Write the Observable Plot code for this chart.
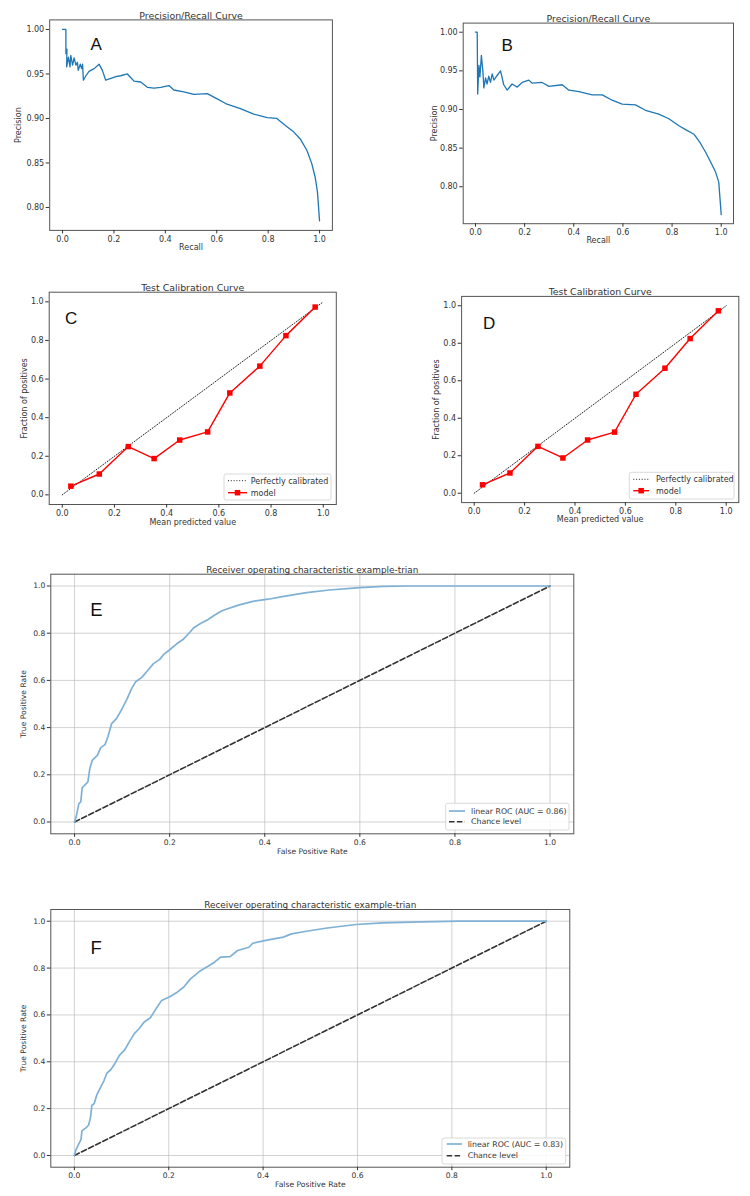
<!DOCTYPE html>
<html><head><meta charset="utf-8">
<script src="https://cdn.jsdelivr.net/npm/d3@7"></script>
<script src="https://cdn.jsdelivr.net/npm/@observablehq/plot@0.6"></script>
<style>
html,body{margin:0;padding:0;background:#fff;}
#page{position:relative;width:750px;height:1196px;overflow:hidden;background:#fff;}
#page > div{position:absolute;}
#page svg{overflow:visible;background:transparent !important;max-width:none !important;}
</style></head><body><div id="page"></div>
<script>
// ---------- data ----------
const prRecallA = [0,0.013,0.013,0.017,0.016,0.023,0.029,0.032,0.039,0.045,0.052,0.058,0.061,0.069,0.074,0.078,0.081,0.091,0.103,0.123,0.142,0.155,0.168,0.188,0.207,0.226,0.252,0.265,0.278,0.304,0.33,0.356,0.382,0.414,0.433,0.472,0.511,0.563,0.602,0.64,0.692,0.744,0.796,0.834,0.867,0.899,0.925,0.951,0.97,0.983,0.992,1.0];
const prPrecA = [1.0,1.0,0.973,0.978,0.958,0.969,0.958,0.971,0.96,0.968,0.96,0.963,0.954,0.961,0.956,0.961,0.943,0.948,0.953,0.956,0.961,0.954,0.943,0.945,0.947,0.948,0.95,0.946,0.942,0.941,0.935,0.934,0.935,0.937,0.932,0.93,0.927,0.928,0.922,0.916,0.911,0.905,0.901,0.9,0.892,0.885,0.877,0.864,0.849,0.834,0.817,0.785];
const prRecallB = [0,0.007,0.009,0.014,0.018,0.024,0.03,0.034,0.041,0.047,0.054,0.061,0.068,0.075,0.088,0.102,0.115,0.129,0.149,0.17,0.19,0.217,0.231,0.271,0.299,0.353,0.38,0.421,0.475,0.516,0.556,0.597,0.651,0.692,0.746,0.787,0.828,0.855,0.889,0.916,0.936,0.957,0.977,0.99,1.0];
const prPrecB = [1,1.0,0.92,0.957,0.942,0.97,0.95,0.928,0.941,0.933,0.943,0.935,0.946,0.938,0.944,0.95,0.932,0.925,0.933,0.929,0.935,0.938,0.934,0.935,0.93,0.932,0.925,0.923,0.919,0.919,0.912,0.907,0.906,0.899,0.894,0.888,0.879,0.874,0.868,0.856,0.845,0.832,0.819,0.806,0.764];
const calMeanPred = [0.033,0.142,0.253,0.352,0.45,0.557,0.642,0.757,0.857,0.969];
const calFracPos = [0.045,0.108,0.25,0.188,0.284,0.326,0.528,0.667,0.825,0.973];
const diagX = [0,1];
const diagY = [0,1];
const rocFprE = [0,0.004,0.009,0.013,0.016,0.028,0.032,0.037,0.048,0.055,0.064,0.07,0.078,0.088,0.1,0.11,0.12,0.128,0.142,0.152,0.166,0.179,0.187,0.2,0.215,0.228,0.243,0.25,0.264,0.28,0.294,0.31,0.343,0.375,0.407,0.44,0.488,0.536,0.6,0.65,0.7,1];
const rocTprE = [0,0.028,0.078,0.085,0.145,0.17,0.226,0.261,0.282,0.315,0.328,0.36,0.417,0.438,0.48,0.52,0.565,0.593,0.614,0.638,0.671,0.689,0.709,0.73,0.755,0.773,0.805,0.822,0.84,0.857,0.876,0.895,0.918,0.935,0.944,0.956,0.972,0.983,0.993,0.998,1.0,1];
const rocFprF = [0,0.003,0.008,0.014,0.016,0.025,0.03,0.034,0.037,0.042,0.048,0.056,0.063,0.069,0.077,0.085,0.095,0.107,0.116,0.127,0.137,0.148,0.161,0.173,0.185,0.203,0.218,0.232,0.246,0.268,0.285,0.297,0.31,0.33,0.346,0.37,0.378,0.411,0.443,0.46,0.492,0.532,0.597,0.654,0.735,0.816,1];
const rocTprF = [0,0.023,0.044,0.068,0.105,0.119,0.129,0.16,0.214,0.222,0.261,0.293,0.321,0.352,0.366,0.389,0.426,0.452,0.484,0.52,0.541,0.57,0.588,0.626,0.662,0.679,0.697,0.719,0.754,0.79,0.81,0.825,0.847,0.849,0.875,0.889,0.906,0.92,0.932,0.946,0.957,0.97,0.986,0.993,0.997,1.0,1];
const unitTicks = [0,0.2,0.4,0.6,0.8,1.0];
const prTicks = [0.80,0.85,0.90,0.95,1.00];
const aucE = 0.86, aucF = 0.83;

const zip = (xs, ys) => xs.map((x, i) => ({x, y: ys[i]}));
const FONT = "DejaVu Sans";
const page = document.getElementById("page");

function panel(c) {
  const [fx0, fx1, fy0, fy1] = c.frame;
  const ml = fx0 - c.left, mr = c.left + c.width - fx1, mt = fy0 - c.top, mb = c.top + c.height - fy1;
  const marks = [];
  if (c.grid) {
    marks.push(Plot.gridX({ticks: c.xTicks, stroke: "#b8b8b8", strokeOpacity: 0.8, strokeWidth: 0.8}));
    marks.push(Plot.gridY({ticks: c.yTicks, stroke: "#b8b8b8", strokeOpacity: 0.8, strokeWidth: 0.8}));
  }
  marks.push(...c.marks);
  marks.push(Plot.frame({stroke: "#555", strokeWidth: 1}));
  marks.push(Plot.axisX({ticks: c.xTicks, tickFormat: d3.format(".1f"), tickSize: 3.5, tickPadding: 2, fontSize: c.fs, label: null, color: "#333"}));
  marks.push(Plot.axisY({ticks: c.yTicks, tickFormat: d3.format(c.yFormat), tickSize: 3.5, tickPadding: 2, fontSize: c.fs, label: null, color: "#333"}));
  marks.push(Plot.text([c.title], {frameAnchor: "top", dy: c.titleDy, text: d => d, fontSize: c.titleSize, fill: "#333"}));
  marks.push(Plot.text([c.xLabel], {frameAnchor: "bottom", dy: c.xLabelDy, text: d => d, fontSize: c.fs, fill: "#333"}));
  marks.push(Plot.text([c.yLabel], {frameAnchor: "left", dx: c.yLabelDx, rotate: -90, text: d => d, fontSize: c.fs, fill: "#333", textAnchor: "middle"}));
  marks.push(Plot.text([c.letter], {frameAnchor: "top-left", dx: c.letterDx, dy: c.letterDy, text: d => d, fontSize: c.letterSize, fontFamily: "Liberation Sans", textAnchor: "middle", lineAnchor: "middle", fill: "#111"}));
  const svg = Plot.plot({
    width: c.width, height: c.height,
    marginLeft: ml, marginRight: mr, marginTop: mt, marginBottom: mb,
    x: {domain: c.xDomain}, y: {domain: c.yDomain},
    style: {fontFamily: FONT, fontSize: c.fs + "px", background: "transparent", overflow: "visible"},
    marks
  });
  const div = document.createElement("div");
  div.style.left = c.left + "px"; div.style.top = c.top + "px";
  div.style.width = c.width + "px"; div.style.height = c.height + "px";
  div.appendChild(svg);
  page.appendChild(div);
  if (c.legend) legend(svg, c.left, c.top, c.legend);
}

function legend(svg, ox, oy, L) {
  const g = d3.select(svg).append("g").attr("text-anchor", "start");
  const [bx0, bx1, by0, by1] = L.box;
  g.append("rect").attr("x", bx0 - ox).attr("y", by0 - oy).attr("width", bx1 - bx0).attr("height", by1 - by0)
    .attr("rx", 2).attr("fill", "#fff").attr("fill-opacity", 0.85).attr("stroke", "#d0d0d0").attr("stroke-width", 0.8);
  L.rows.forEach(r => {
    g.append("line").attr("x1", L.sx0 - ox).attr("x2", L.sx1 - ox).attr("y1", r.y - oy).attr("y2", r.y - oy)
      .attr("stroke", r.stroke).attr("stroke-width", r.sw).attr("stroke-dasharray", r.dash || null);
    if (r.marker) {
      const cx = (L.sx0 + L.sx1) / 2 - ox, s = 5.5;
      g.append("rect").attr("x", cx - s / 2).attr("y", r.y - oy - s / 2).attr("width", s).attr("height", s).attr("fill", r.stroke);
    }
    g.append("text").attr("x", L.tx - ox).attr("y", r.y - oy).attr("dy", "0.35em").attr("font-size", L.fs)
      .attr("text-anchor", "start").attr("font-family", FONT).attr("fill", "#333").text(r.text);
  });
}

// PR curves
const prBlue = "#1f77b4";
panel({left: 0, top: 0, width: 375, height: 262, frame: [49.2, 331.9, 19.4, 229.9],
  xDomain: [-0.05, 1.05], yDomain: [0.77425, 1.01075], xTicks: unitTicks, yTicks: prTicks, yFormat: ".2f", fs: 8,
  marks: [Plot.line(zip(prRecallA, prPrecA), {x: "x", y: "y", stroke: prBlue, strokeWidth: 1.3})],
  title: "Precision/Recall Curve", titleDy: -7.7, titleSize: 9.4,
  xLabel: "Recall", xLabelDy: 19.4, yLabel: "Precision", yLabelDx: -30.9,
  letter: "A", letterDx: 46.5, letterDy: 24.6, letterSize: 17});
panel({left: 375, top: 0, width: 375, height: 262, frame: [462.7, 733, 22.6, 223.2],
  xDomain: [-0.05, 1.05], yDomain: [0.7522, 1.0118], xTicks: unitTicks, yTicks: prTicks, yFormat: ".2f", fs: 8,
  marks: [Plot.line(zip(prRecallB, prPrecB), {x: "x", y: "y", stroke: prBlue, strokeWidth: 1.3})],
  title: "Precision/Recall Curve", titleDy: -7.6, titleSize: 9.4,
  xLabel: "Recall", xLabelDy: 19.1, yLabel: "Precision", yLabelDx: -28.7,
  letter: "B", letterDx: 44, letterDy: 22.4, letterSize: 17});

// calibration curves
function calMarks() {
  return [
    Plot.line(zip(diagX, diagY), {x: "x", y: "y", stroke: "#222", strokeWidth: 1, strokeDasharray: "1,1.8"}),
    Plot.line(zip(calMeanPred, calFracPos), {x: "x", y: "y", stroke: "#ff0000", strokeWidth: 1.4}),
    Plot.dot(zip(calMeanPred, calFracPos), {x: "x", y: "y", symbol: "square", r: 3.1, fill: "#ff0000", stroke: "none"})
  ];
}
panel({left: 0, top: 262, width: 375, height: 278, frame: [48.7, 335.8, 291.7, 504],
  xDomain: [-0.05, 1.05], yDomain: [-0.05, 1.05], xTicks: unitTicks, yTicks: unitTicks, yFormat: ".1f", fs: 8,
  marks: calMarks(), title: "Test Calibration Curve", titleDy: -7.7, titleSize: 9.4,
  xLabel: "Mean predicted value", xLabelDy: 20, yLabel: "Fraction of positives", yLabelDx: -24.7,
  letter: "C", letterDx: 22, letterDy: 26, letterSize: 17,
  legend: {box: [224, 331, 474, 500], sx0: 228, sx1: 247, tx: 250.7, fs: 8, rows: [
    {y: 480.7, text: "Perfectly calibrated", stroke: "#222", sw: 1, dash: "1,1.8"},
    {y: 492.7, text: "model", stroke: "#ff0000", sw: 1.4, marker: true}]}});
panel({left: 375, top: 262, width: 375, height: 278, frame: [461.1, 738.3, 295.9, 502.1],
  xDomain: [-0.05, 1.05], yDomain: [-0.05, 1.05], xTicks: unitTicks, yTicks: unitTicks, yFormat: ".1f", fs: 8,
  marks: calMarks(), title: "Test Calibration Curve", titleDy: -7.9, titleSize: 9.4,
  xLabel: "Mean predicted value", xLabelDy: 18.9, yLabel: "Fraction of positives", yLabelDx: -25.1,
  letter: "D", letterDx: 27.6, letterDy: 26.8, letterSize: 17,
  legend: {box: [629.3, 734, 472.3, 499], sx0: 633.3, sx1: 649, tx: 656, fs: 8, rows: [
    {y: 479.3, text: "Perfectly calibrated", stroke: "#222", sw: 1, dash: "1,1.8"},
    {y: 490.7, text: "model", stroke: "#ff0000", sw: 1.4, marker: true}]}});

// ROC curves
const rocBlue = "#7fb1d6";
function rocMarks(fpr, tpr) {
  return [
    Plot.line(zip(diagX, diagY), {x: "x", y: "y", stroke: "#333", strokeWidth: 1.6, strokeDasharray: "5.5,2.4"}),
    Plot.line(zip(fpr, tpr), {x: "x", y: "y", stroke: rocBlue, strokeWidth: 1.7})
  ];
}
panel({left: 0, top: 540, width: 750, height: 320, frame: [50.3, 573.3, 573.7, 833.3],
  xDomain: [-0.05, 1.05], yDomain: [-0.05, 1.05], xTicks: unitTicks, yTicks: unitTicks, yFormat: ".1f", fs: 7.6, grid: true,
  marks: rocMarks(rocFprE, rocTprE), title: "Receiver operating characteristic example-trian", titleDy: -8, titleSize: 8.9,
  xLabel: "False Positive Rate", xLabelDy: 19.7, yLabel: "True Positive Rate", yLabelDx: -27.6,
  letter: "E", letterDx: 45.7, letterDy: 35.6, letterSize: 18.5,
  legend: {box: [445.7, 569, 803.3, 830], sx0: 449, sx1: 465, tx: 471, fs: 7.8, rows: [
    {y: 811, text: `linear ROC (AUC = ${aucE.toFixed(2)})`, stroke: rocBlue, sw: 1.7},
    {y: 821.7, text: "Chance level", stroke: "#333", sw: 1.6, dash: "5.5,2.4"}]}});
panel({left: 0, top: 860, width: 750, height: 336, frame: [50.3, 569.3, 909, 1166.7],
  xDomain: [-0.05, 1.05], yDomain: [-0.05, 1.05], xTicks: unitTicks, yTicks: unitTicks, yFormat: ".1f", fs: 7.6, grid: true,
  marks: rocMarks(rocFprF, rocTprF), title: "Receiver operating characteristic example-trian", titleDy: -8, titleSize: 8.9,
  xLabel: "False Positive Rate", xLabelDy: 20, yLabel: "True Positive Rate", yLabelDx: -27,
  letter: "F", letterDx: 45.4, letterDy: 38.3, letterSize: 18.5,
  legend: {box: [442, 565.7, 1138, 1164], sx0: 446.7, sx1: 462, tx: 467.7, fs: 7.8, rows: [
    {y: 1144, text: `linear ROC (AUC = ${aucF.toFixed(2)})`, stroke: rocBlue, sw: 1.7},
    {y: 1155.7, text: "Chance level", stroke: "#333", sw: 1.6, dash: "5.5,2.4"}]}});
</script></body></html>
